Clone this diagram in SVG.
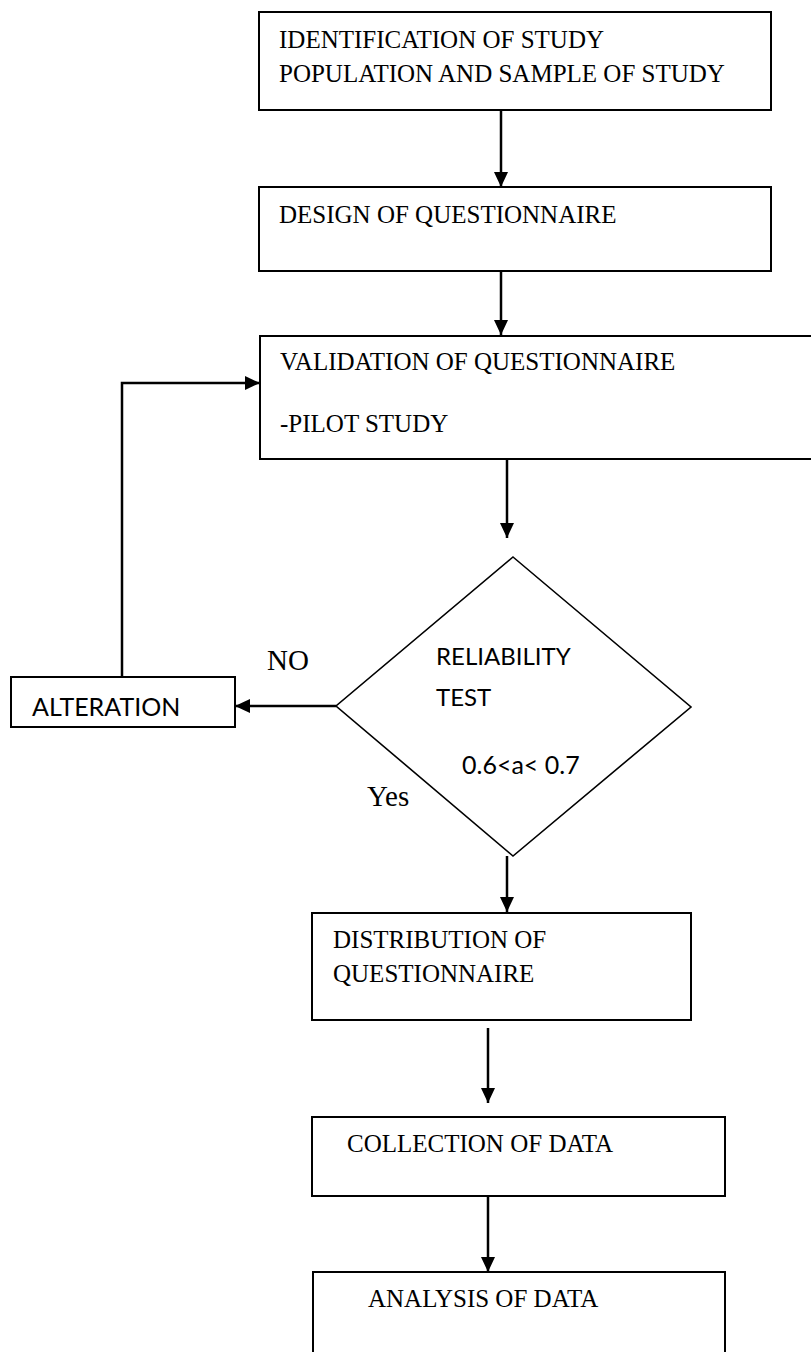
<svg xmlns="http://www.w3.org/2000/svg" width="811" height="1352" viewBox="0 0 811 1352">
<style>
.box{fill:#fff;stroke:#000;stroke-width:2}
.dia{fill:#fff;stroke:#000;stroke-width:1.6}
.t{font-family:"Liberation Serif","Times New Roman",serif;font-size:25px;fill:#000}
.s{font-family:"Lato","Liberation Sans",sans-serif;font-size:24px;fill:#000}
.lbl{font-family:"Liberation Serif","Times New Roman",serif;font-size:29px;fill:#000}
.c{fill:none;stroke:#000;stroke-width:2.5}
</style>
<defs>
<marker id="ah" markerUnits="userSpaceOnUse" markerWidth="15" markerHeight="14" refX="15" refY="7" orient="auto">
<path d="M0,0 L15,7 L0,14 z" fill="#000"/>
</marker>
</defs>
<rect width="811" height="1352" fill="#fff"/>
<g id="connectors">
<path class="c" d="M501,110 V187" marker-end="url(#ah)"/>
<path class="c" d="M501,271 V335" marker-end="url(#ah)"/>
<path class="c" d="M507,459 V538" marker-end="url(#ah)"/>
<path class="c" d="M336,706 H235" marker-end="url(#ah)"/>
<path class="c" d="M122,677 V383 H260" marker-end="url(#ah)"/>
<path class="c" d="M507,856 V912" marker-end="url(#ah)"/>
<path class="c" d="M488,1028 V1103" marker-end="url(#ah)"/>
<path class="c" d="M488,1196 V1272" marker-end="url(#ah)"/>
<text class="lbl" x="267" y="670">NO</text>
<text class="lbl" x="367" y="806">Yes</text>
</g>
<g id="identification">
<rect class="box" x="259" y="12" width="512" height="98"/>
<text class="t" x="279" y="48">IDENTIFICATION OF STUDY</text>
<text class="t" x="279" y="82">POPULATION AND SAMPLE OF STUDY</text>
</g>
<g id="design">
<rect class="box" x="259" y="187" width="512" height="84"/>
<text class="t" x="279" y="223">DESIGN OF QUESTIONNAIRE</text>
</g>
<g id="validation">
<rect class="box" x="260" y="336" width="560" height="123"/>
<text class="t" x="280" y="370">VALIDATION OF QUESTIONNAIRE</text>
<text class="t" x="280" y="432">-PILOT STUDY</text>
</g>
<g id="reliability">
<polygon class="dia" points="513,557 691,707 513,856 336,706"/>
<text class="s" x="436" y="665">RELIABILITY</text>
<text class="s" x="436" y="706">TEST</text>
<text class="s" x="462" y="774" style="font-size:25px">0.6&lt;a&lt; 0.7</text>
</g>
<g id="alteration">
<rect class="box" x="11" y="677" width="224" height="50"/>
<text class="s" x="32" y="716" style="font-size:25px">ALTERATION</text>
</g>
<g id="distribution">
<rect class="box" x="312" y="913" width="379" height="107"/>
<text class="t" x="333" y="948">DISTRIBUTION OF</text>
<text class="t" x="333" y="982">QUESTIONNAIRE</text>
</g>
<g id="collection">
<rect class="box" x="312" y="1117" width="413" height="79"/>
<text class="t" x="347" y="1152">COLLECTION OF DATA</text>
</g>
<g id="analysis">
<rect class="box" x="313" y="1272" width="412" height="100"/>
<text class="t" x="368" y="1307">ANALYSIS OF DATA</text>
</g>
</svg>
